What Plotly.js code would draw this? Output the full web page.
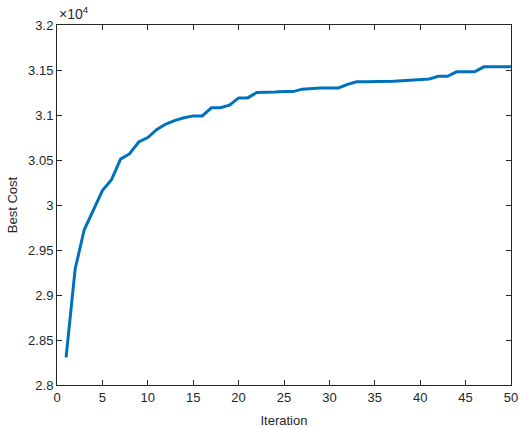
<!DOCTYPE html>
<html>
<head>
<meta charset="utf-8">
<script src="https://cdn.plot.ly/plotly-3.0.1.min.js"></script>
<style>
  html, body { margin: 0; padding: 0; background: #fff; }
  #chart { width: 520px; height: 428px; }
</style>
</head>
<body>
<div id="chart"></div>
<script>
var iteration = [];
for (var i = 1; i <= 50; i++) iteration.push(i);

var bestCost = [
    28307, 29290, 29725, 29950, 30160, 30280, 30510, 30570, 30700, 30750,
    30840, 30900, 30940, 30970, 30990, 30990, 31080, 31080, 31110, 31190,
    31190, 31250, 31250, 31255, 31260, 31260, 31287, 31295, 31300, 31300,
    31300, 31340, 31370, 31370, 31370, 31370, 31375, 31380, 31385, 31398,
    31400, 31430, 31430, 31480, 31480, 31480, 31535, 31535, 31535, 31535
];

var yTickVals = [28000, 28500, 29000, 29500, 30000, 30500, 31000, 31500, 32000];
var yTickText = ["2.8", "2.85", "2.9", "2.95", "3", "3.05", "3.1", "3.15", "3.2"];
var xTickVals = [0, 5, 10, 15, 20, 25, 30, 35, 40, 45, 50];

var font = { family: "Liberation Sans, Arial, sans-serif", size: 13, color: "#262626" };

var trace = {
    x: iteration,
    y: bestCost,
    mode: "lines",
    type: "scatter",
    line: { color: "#0072BD", width: 3 },
};

var axisStyle = {
    showgrid: false,
    zeroline: false,
    showline: true,
    mirror: "ticks",
    linecolor: "#262626",
    linewidth: 1,
    ticks: "inside",
    ticklen: 5,
    tickwidth: 1,
    tickcolor: "#262626",
    tickfont: font,
};

var layout = {
    width: 520,
    height: 428,
    showlegend: false,
    paper_bgcolor: "#ffffff",
    plot_bgcolor: "#ffffff",
    font: font,
    margin: { l: 57, r: 9, t: 25, b: 43, pad: 0 },
    xaxis: Object.assign({}, axisStyle, {
        range: [0, 50],
        tickvals: xTickVals,
        title: { text: "Iteration", font: font, standoff: 12 },
    }),
    yaxis: Object.assign({}, axisStyle, {
        range: [28000, 32000],
        tickvals: yTickVals,
        ticktext: yTickText,
        title: { text: "Best Cost", font: font, standoff: 7 },
    }),
    annotations: [
        {
            text: "×10<sup>4</sup>",
            xref: "paper",
            yref: "paper",
            x: 0,
            y: 1,
            xanchor: "left",
            yanchor: "bottom",
            yshift: 1,
            showarrow: false,
            font: { family: font.family, size: 14, color: font.color },
        },
    ],
};

Plotly.newPlot("chart", [trace], layout, { staticPlot: true });
</script>
</body>
</html>
